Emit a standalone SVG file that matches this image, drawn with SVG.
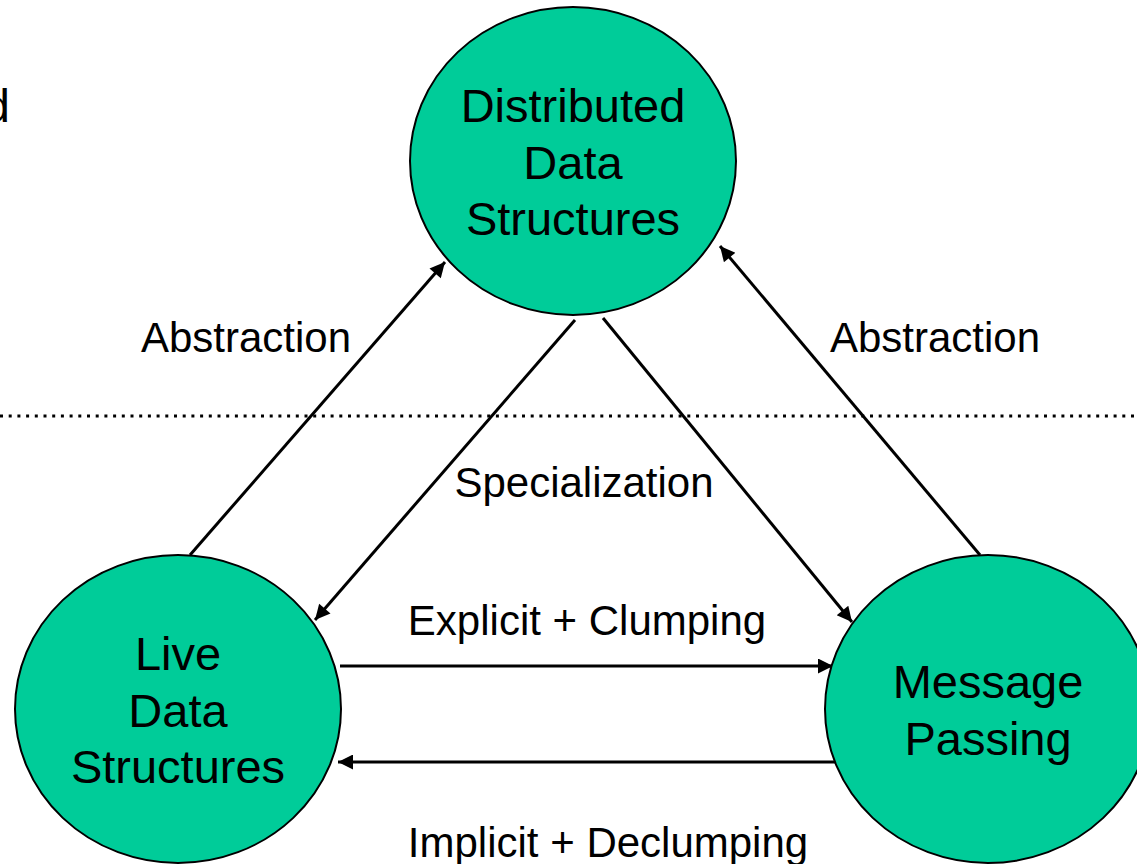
<svg xmlns="http://www.w3.org/2000/svg" width="1137" height="864" viewBox="0 0 1137 864">
  <style>
    .node { fill: #00CC99; stroke: #000; stroke-width: 2; }
    .ntext { font-family: "Liberation Sans", Arial, sans-serif; font-size: 47px; fill: #000; text-anchor: middle; }
    .label { font-family: "Liberation Sans", Arial, sans-serif; font-size: 42px; fill: #000; text-anchor: middle; }
    .edge { stroke: #000; stroke-width: 3; fill: none; marker-end: url(#arrow); }
  </style>
  <defs>
    <marker id="arrow" viewBox="0 0 10 10" refX="10" refY="5" markerWidth="5.5" markerHeight="5" markerUnits="strokeWidth" orient="auto">
      <path d="M0,0 L10,5 L0,10 z" fill="#000"/>
    </marker>
  </defs>

  <rect width="1137" height="864" fill="#fff"/>

  <!-- clipped title fragment -->
  <text class="ntext" x="10" y="122" style="text-anchor:end">d</text>

  <!-- divider -->
  <line x1="0" y1="416" x2="1137" y2="416" stroke="#000" stroke-width="3" stroke-dasharray="3 5.7"/>

  <g id="connectors">
    <line class="edge" x1="190" y1="555" x2="445" y2="262"/>
    <line class="edge" x1="575" y1="320" x2="315" y2="620"/>
    <line class="edge" x1="603" y1="318" x2="852" y2="622"/>
    <line class="edge" x1="980" y1="555" x2="720" y2="246"/>
    <line class="edge" x1="340" y1="666" x2="833" y2="666"/>
    <line class="edge" x1="835" y1="762" x2="338" y2="762"/>
  </g>

  <g id="labels">
    <text class="label" x="246" y="352">Abstraction</text>
    <text class="label" x="935" y="352">Abstraction</text>
    <text class="label" x="584" y="497">Specialization</text>
    <text class="label" x="587" y="635">Explicit + Clumping</text>
    <text class="label" x="608" y="857">Implicit + Declumping</text>
  </g>

  <g id="node-distributed">
    <ellipse class="node" cx="573" cy="161" rx="163" ry="154"/>
    <text class="ntext" x="573" y="122">Distributed</text>
    <text class="ntext" x="573" y="179">Data</text>
    <text class="ntext" x="573" y="235">Structures</text>
  </g>

  <g id="node-live">
    <ellipse class="node" cx="178" cy="709" rx="163" ry="154"/>
    <text class="ntext" x="178" y="670">Live</text>
    <text class="ntext" x="178" y="727">Data</text>
    <text class="ntext" x="178" y="783">Structures</text>
  </g>

  <g id="node-message">
    <ellipse class="node" cx="988" cy="709" rx="163" ry="154"/>
    <text class="ntext" x="988" y="698">Message</text>
    <text class="ntext" x="988" y="755">Passing</text>
  </g>
</svg>
